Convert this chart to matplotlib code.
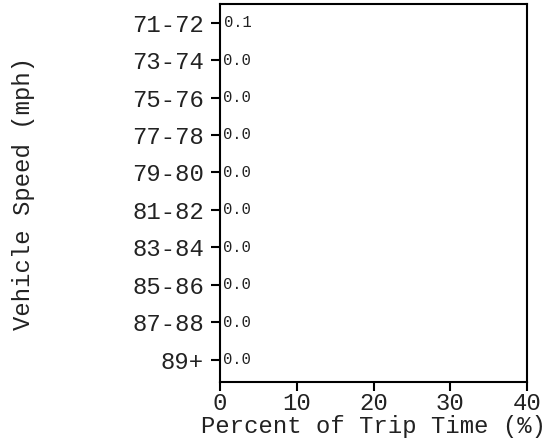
import numpy as np
import matplotlib.pyplot as plt

# speed bins and share of trip time (%)
speed_bins = ['71-72', '73-74', '75-76', '77-78', '79-80',
              '81-82', '83-84', '85-86', '87-88', '89+']
pct_time = [0.1, 0.0, 0.0, 0.0, 0.0, 0.0, 0.0, 0.0, 0.0, 0.0]
x_ticks = [0, 10, 20, 30, 40]

plt.rcParams['font.family'] = ['Liberation Mono', 'DejaVu Sans Mono']

fig = plt.figure(figsize=(5.48, 4.44), dpi=100)
ax = fig.add_axes([0.4015, 0.1396, 0.5602, 0.8514])

ypos = np.arange(len(speed_bins))
ax.barh(ypos, pct_time, height=0.6, color='#4d4d4d')

for y, v in zip(ypos, pct_time):
    ax.annotate(f'{v:.1f}', (v, y), xytext=(2, 0), textcoords='offset points',
                va='center', ha='left', fontsize=11.2, color='#222222')

ax.set_yticks(ypos)
ax.set_yticklabels(speed_bins)
ax.set_xticks(x_ticks)
ax.set_xlim(0, 40)
ax.set_ylim(9.6, -0.5)

ax.tick_params(axis='both', labelsize=17.2, length=6.5, width=1.5, direction='out',
               labelcolor='#222222')
ax.tick_params(axis='y', pad=5)
ax.tick_params(axis='x', pad=1)
for s in ax.spines.values():
    s.set_linewidth(1.5)

ax.set_xlabel('Percent of Trip Time (%)', fontsize=17.2, labelpad=0, color='#222222')
ax.set_ylabel('Vehicle Speed (mph)', fontsize=17.2, labelpad=70, color='#222222')

fig.savefig('out.png', dpi=100)
